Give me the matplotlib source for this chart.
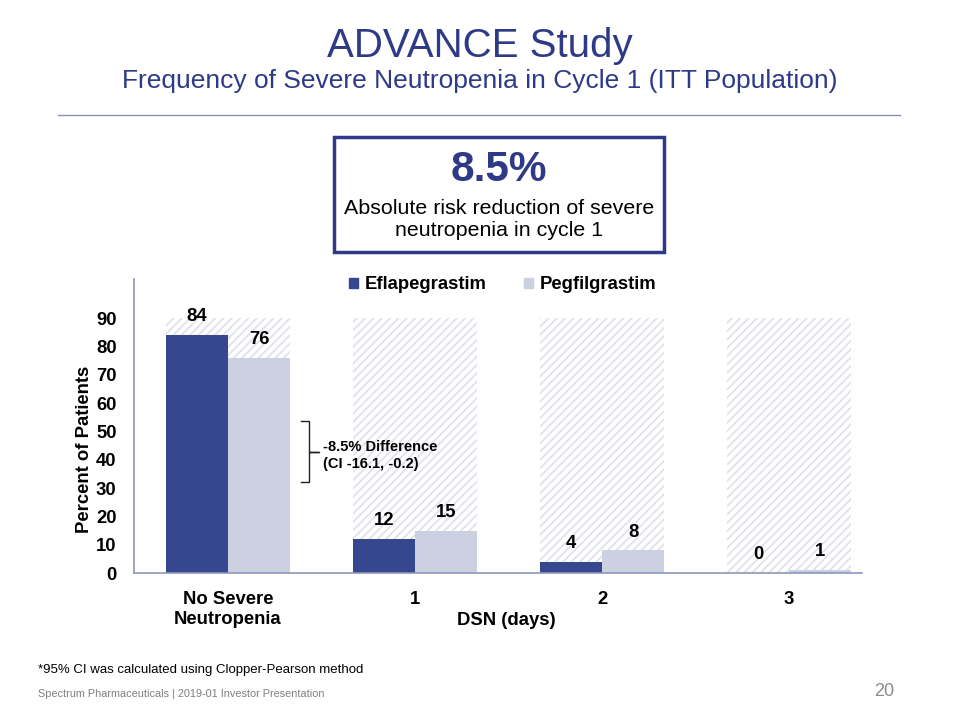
import numpy as np
import matplotlib.pyplot as plt
from matplotlib.patches import Patch, Rectangle
from matplotlib.lines import Line2D

# ==========================
# DATA
# ==========================
categories = ["No Severe\nNeutropenia", "1", "2", "3"]
eflapegrastim = [84, 12, 4, 0]
pegfilgrastim = [76, 15, 8, 1]
series_names = ["Eflapegrastim", "Pegfilgrastim"]
y_ticks = [0, 10, 20, 30, 40, 50, 60, 70, 80, 90]
frame_height = 90

# ==========================
# STYLE
# ==========================
plt.rcParams["font.family"] = ["Liberation Sans", "DejaVu Sans"]
NAVY = "#2E3A87"
BAR_DARK = "#36468F"
BAR_LIGHT = "#CBD1E1"
AXIS_COL = "#8E97B9"
HATCH_COL = "#DFE2E9"
plt.rcParams["hatch.linewidth"] = 1.3

fig = plt.figure(figsize=(9.6, 7.2), dpi=100)
ax = fig.add_axes([134 / 960, 1 - 573 / 720, 728 / 960, 294 / 720])

x = np.arange(len(categories))
w = 1 / 3

# hatched frames behind each group
ax.bar(x, [frame_height] * len(x), width=2 * w, color="white",
       edgecolor=HATCH_COL, linewidth=0, hatch="////", zorder=1)

b1 = ax.bar(x - w / 2, eflapegrastim, width=w, color=BAR_DARK, zorder=2)
b2 = ax.bar(x + w / 2, pegfilgrastim, width=w, color=BAR_LIGHT, zorder=2)

for bars, vals in [(b1, eflapegrastim), (b2, pegfilgrastim)]:
    for rect, v in zip(bars, vals):
        ax.annotate(f"{v}", (rect.get_x() + rect.get_width() / 2, v),
                    xytext=(0, 7), textcoords="offset points",
                    ha="center", va="bottom", fontsize=13.3, fontweight="bold")

ax.set_xlim(-0.503, -0.503 + 728 / 187)
ax.set_ylim(0, 103.8)
ax.set_yticks(y_ticks)
ax.set_xticks(x)
ax.set_xticklabels(categories, fontsize=13.3, fontweight="bold", linespacing=1.2)
for lab in ax.get_yticklabels():
    lab.set_fontsize(13.3)
    lab.set_fontweight("bold")
ax.tick_params(axis="y", length=0, pad=12.5)
ax.tick_params(axis="x", length=0, pad=13)

for s in ["top", "right"]:
    ax.spines[s].set_visible(False)
for s in ["left", "bottom"]:
    ax.spines[s].set_color(AXIS_COL)
    ax.spines[s].set_linewidth(1.2)

ax.set_ylabel("Percent of Patients", fontsize=13.3, fontweight="bold")
ax.yaxis.set_label_coords(-0.057, 0.42)
ax.set_xlabel("DSN (days)", fontsize=13.3, fontweight="bold", va="center")
ax.xaxis.set_label_coords(0.511, -0.16)

# legend
handles = [Patch(color=BAR_DARK), Patch(color=BAR_LIGHT)]
ax.legend(handles, series_names, ncol=2, loc="center",
          bbox_to_anchor=(0.5235, 1 - 285 / 720), bbox_transform=fig.transFigure,
          frameon=False, prop={"weight": "bold", "size": 13.3},
          handlelength=0.5, handleheight=0.5, handletextpad=0.35,
          columnspacing=2.0)

# brace + difference note
bx = [0.390, 0.433, 0.433, 0.487, 0.433, 0.433, 0.390]
by = [53.6, 53.6, 42.7, 42.7, 42.7, 32.1, 32.1]
ax.plot(bx, by, color="#222222", lw=1.0, zorder=3, solid_joinstyle="round")
ax.text(0.508, 41.6, "-8.5% Difference\n(CI -16.1, -0.2)", fontsize=10.5,
        fontweight="bold", ha="left", va="center", linespacing=1.3, zorder=3)

# ==========================
# HEADER / BOX / FOOTER
# ==========================
fig.text(0.5, 1 - 46 / 720, "ADVANCE Study", ha="center", va="center",
         fontsize=29, color=NAVY)
fig.text(0.5, 1 - 81 / 720, "Frequency of Severe Neutropenia in Cycle 1 (ITT Population)",
         ha="center", va="center", fontsize=19, color=NAVY)
fig.add_artist(Line2D([58 / 960, 900 / 960], [1 - 115 / 720] * 2,
                      color="#8893B5", lw=1.0, transform=fig.transFigure))

fig.add_artist(Rectangle((334 / 960, 1 - 252 / 720), (664 - 334) / 960,
                         (252 - 137) / 720, fill=False, ec=NAVY, lw=2.5,
                         transform=fig.transFigure))
fig.text(499 / 960, 1 - 170 / 720, "8.5%", ha="center", va="center",
         fontsize=30.5, fontweight="bold", color=NAVY)
fig.text(499 / 960, 1 - 220 / 720,
         "Absolute risk reduction of severe\nneutropenia in cycle 1",
         ha="center", va="center", fontsize=15.4, linespacing=1.2, color="black")

fig.text(38 / 960, 1 - 670 / 720, "*95% CI was calculated using Clopper-Pearson method",
         ha="left", va="center", fontsize=9.5, color="black")
fig.text(38 / 960, 1 - 694 / 720, "Spectrum Pharmaceuticals | 2019-01 Investor Presentation",
         ha="left", va="center", fontsize=7.8, color="#7F7F7F")
fig.text(894 / 960, 1 - 692 / 720, "20", ha="right", va="center",
         fontsize=13, color="#8C8C8C")

fig.savefig("out.png", dpi=100)
